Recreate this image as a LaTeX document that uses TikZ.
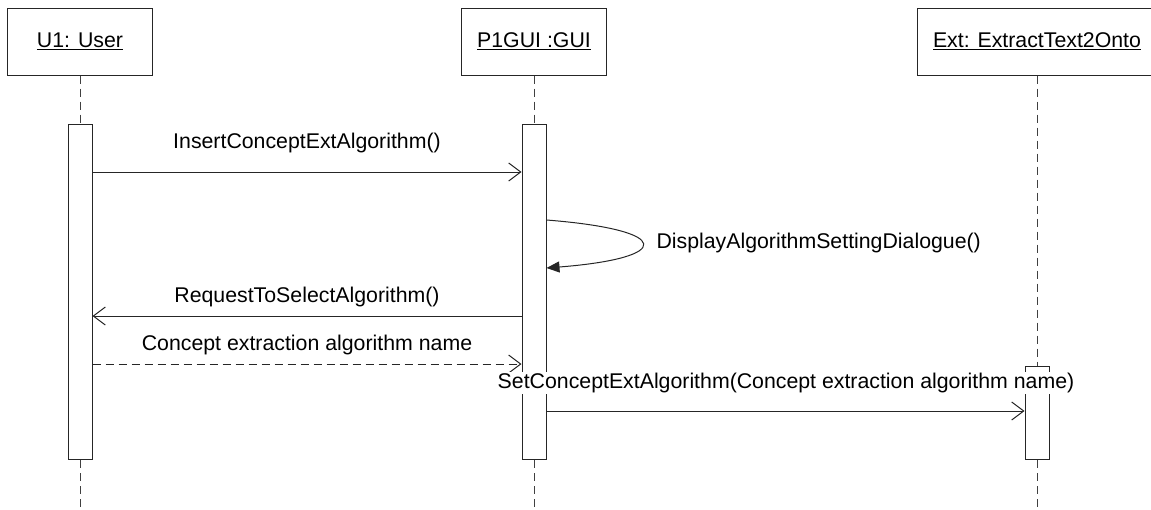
\documentclass[tikz,border=0pt]{standalone}
\usepackage{fontspec}
\setmainfont{Liberation Sans}
\usepackage{tikz}
\usetikzlibrary{positioning,arrows.meta}

\begin{document}
\begin{tikzpicture}[x=1pt, y=-1pt,
    line width=1pt, draw=black!85,
    every node/.style={font=\fontsize{21.3}{25}\selectfont},
    objbox/.style={draw, minimum height=67pt, inner sep=0pt},
    actbox/.style={draw, fill=white, anchor=north, minimum width=24pt, inner sep=0pt},
    life/.style={dashed, dash pattern=on 8pt off 5pt, draw=black!75},
    call/.style={-{Straight Barb[length=12pt,width=18pt]}},
    reply/.style={call, dashed, dash pattern=on 8pt off 5pt},
    msg/.style={inner sep=1pt}]
  \useasboundingbox (0,0) rectangle (1151,509);
  % objects
  \node[objbox, minimum width=145pt] (user) at (80,41.5) {\underline{U1: User}};
  \node[objbox, minimum width=145pt] (gui) at (534,41.5) {\underline{P1GUI :GUI}};
  \node[objbox, minimum width=240pt] (ext) at (1037,41.5) {\underline{Ext: ExtractText2Onto}};
  % lifelines
  \coordinate (endUser) at (80,509);
  \coordinate (endGui) at (534,509);
  \coordinate (endExt) at (1037,509);
  \node[actbox, minimum height=335pt] (actUser) at (80,124) {};
  \node[actbox, minimum height=335pt] (actGui) at (534,124) {};
  \node[actbox, minimum height=93pt] (actExt) at (1037,366) {};
  \draw[life] (user) -- (actUser);
  \draw[life] (actUser) -- (endUser);
  \draw[life] (gui) -- (actGui);
  \draw[life] (actGui) -- (endGui);
  \draw[life] (ext) -- (actExt);
  \draw[life] (actExt) -- (endExt);
  % messages
  \node[msg] (m1) at (307,143) {InsertConceptExtAlgorithm()};
  \draw[call] (actUser.east |- 0,172) -- (actGui.west |- 0,172);
  \node[msg, anchor=west] (m2) at (655,243) {DisplayAlgorithmSettingDialogue()};
  \draw[-{Triangle[length=13pt,width=11pt]}] (actGui.east |- 0,220)
    .. controls (674,230) and (674,258) .. (actGui.east |- 0,268);
  \node[msg] (m3) at (307,297) {RequestToSelectAlgorithm()};
  \draw[call] (actGui.west |- 0,316) -- (actUser.east |- 0,316);
  \node[msg] (m4) at (307,345) {Concept extraction algorithm name};
  \draw[reply] (actUser.east |- 0,364) -- (actGui.west |- 0,364);
  \node[msg, fill=white] (m5) at (786,383) {SetConceptExtAlgorithm(Concept extraction algorithm name)};
  \draw[call] (actGui.east |- 0,411) -- (actExt.west |- 0,411);
\end{tikzpicture}
\end{document}
